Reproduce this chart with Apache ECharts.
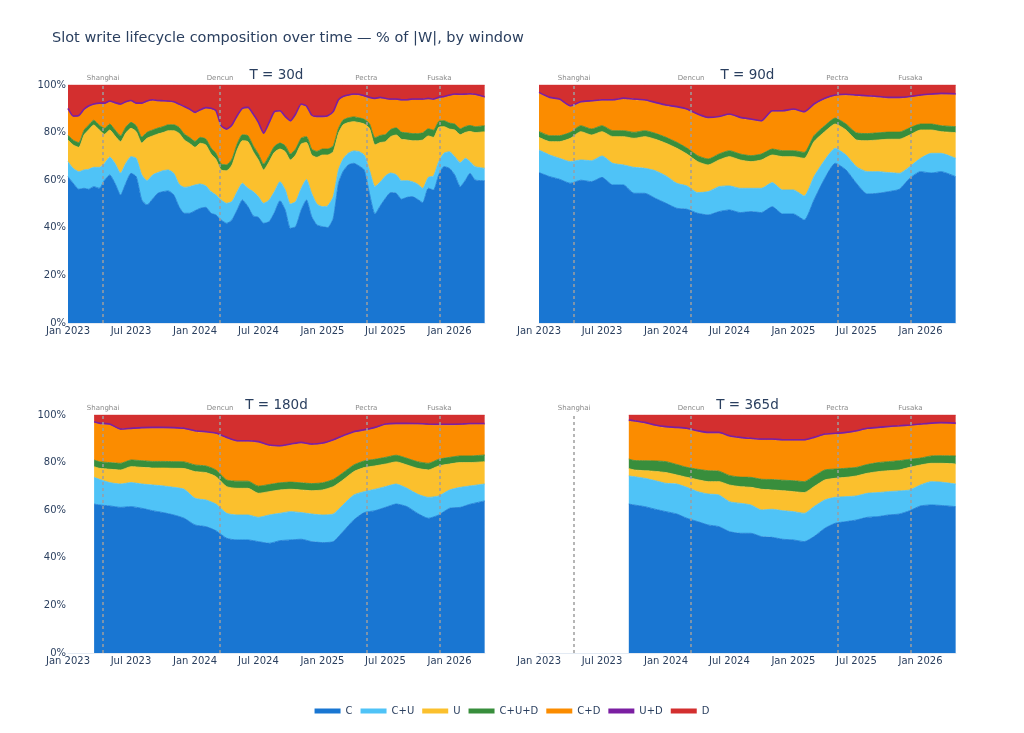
<!DOCTYPE html>
<html>
<head>
<meta charset="utf-8">
<title>Slot write lifecycle composition</title>
<script src="https://cdn.jsdelivr.net/npm/echarts@6/dist/echarts.min.js"></script>
<style>
    html, body { margin: 0; padding: 0; background: #fff; }
    #chart { width: 1024px; height: 733px; }
</style>
</head>
<body>
<div id="chart"></div>
<script>
// series / legend
const seriesNames = ['C', 'C+U', 'U', 'C+U+D', 'C+D', 'U+D', 'D'];
const seriesColors = ['#1976D2', '#4FC3F7', '#FBC02D', '#388E3C', '#FB8C00', '#7B1FA2', '#D32F2F'];
const windowLabels = ['T = 30d', 'T = 90d', 'T = 180d', 'T = 365d'];

// x ticks and fork markers
const tickDates = ['2023-01-01', '2023-07-01', '2024-01-01', '2024-07-01', '2025-01-01', '2025-07-01', '2026-01-01'];
const monthNames = ['Jan', 'Feb', 'Mar', 'Apr', 'May', 'Jun', 'Jul', 'Aug', 'Sep', 'Oct', 'Nov', 'Dec'];
const eventNames = ['Shanghai', 'Dencun', 'Pectra', 'Fusaka'];
const eventDates = ['2023-04-12', '2024-03-13', '2025-05-07', '2025-12-03'];
const yTicks = [0, 20, 40, 60, 80, 100];

// ---- T = 30d ----
const dates30 = [
    '2023-01-01', '2023-01-16', '2023-02-01', '2023-02-16', '2023-03-01', '2023-03-16', '2023-04-01', '2023-04-16',
    '2023-05-01', '2023-05-16', '2023-06-01', '2023-06-16', '2023-07-01', '2023-07-16', '2023-08-01', '2023-08-16',
    '2023-09-01', '2023-09-16', '2023-10-01', '2023-10-16', '2023-11-01', '2023-11-16', '2023-12-01', '2023-12-16',
    '2024-01-01', '2024-01-16', '2024-02-01', '2024-02-16', '2024-03-01', '2024-03-16', '2024-04-01', '2024-04-16',
    '2024-05-01', '2024-05-16', '2024-06-01', '2024-06-16', '2024-07-01', '2024-07-16', '2024-08-01', '2024-08-16',
    '2024-09-01', '2024-09-16', '2024-10-01', '2024-10-16', '2024-11-01', '2024-11-16', '2024-12-01', '2024-12-16',
    '2025-01-01', '2025-01-16', '2025-02-01', '2025-02-16', '2025-03-01', '2025-03-16', '2025-04-01', '2025-04-16',
    '2025-05-01', '2025-05-16', '2025-06-01', '2025-06-16', '2025-07-01', '2025-07-16', '2025-08-01', '2025-08-16',
    '2025-09-01', '2025-09-16', '2025-10-01', '2025-10-16', '2025-11-01', '2025-11-16', '2025-12-01', '2025-12-16',
    '2026-01-01', '2026-01-16', '2026-02-01', '2026-02-16', '2026-03-01', '2026-03-16', '2026-04-12'
];
const c30 = [
    61.5, 58.7, 56.2, 56.6, 56.2, 57.3, 56.6, 60.0, 62.2, 58.7,
    53.8, 58.7, 62.9, 61.5, 51.7, 49.6, 52.1, 54.5, 55.2, 55.5,
    53.8, 48.9, 46.1, 46.1, 47.2, 48.2, 48.6, 46.1, 45.4, 43.3,
    41.9, 43.3, 47.5, 51.7, 48.9, 45.0, 44.4, 41.9, 42.6, 46.4,
    51.4, 47.5, 39.8, 40.5, 47.5, 51.7, 44.7, 41.2, 40.5, 40.1,
    44.0, 58.7, 63.6, 66.4, 67.1, 66.0, 64.3, 54.5, 45.8, 49.2,
    52.4, 54.8, 54.5, 52.0, 52.8, 53.1, 52.0, 50.6, 56.6, 55.9,
    62.2, 65.7, 65.0, 62.2, 57.3, 60.1, 62.9, 60.1, 59.8
];
const cu30 = [
    6.3, 6.3, 7.4, 7.7, 8.4, 8.1, 8.8, 7.1, 7.5, 8.4,
    9.2, 8.4, 7.0, 7.7, 10.6, 10.2, 10.1, 8.7, 8.8, 8.8,
    9.1, 9.5, 10.9, 11.2, 10.8, 10.2, 9.0, 9.1, 8.4, 8.4,
    8.4, 7.7, 7.7, 7.0, 7.7, 10.2, 8.7, 8.4, 9.1, 8.8,
    8.0, 8.5, 10.2, 10.5, 9.1, 8.6, 9.8, 8.8, 8.4, 9.1,
    9.1, 5.6, 5.2, 4.9, 5.2, 6.0, 6.3, 9.8, 11.5, 10.0,
    9.4, 8.2, 7.8, 7.8, 7.0, 6.3, 6.4, 6.0, 4.6, 5.9,
    5.6, 5.6, 7.0, 7.7, 10.1, 9.1, 4.9, 5.6, 5.2
];
const u30 = [
    9.1, 9.8, 10.2, 14.7, 16.5, 17.8, 15.7, 12.2, 11.4, 11.5,
    13.2, 12.7, 11.9, 11.2, 13.3, 17.8, 16.4, 16.2, 16.0, 16.5,
    17.9, 21.3, 19.9, 18.2, 15.8, 17.1, 17.2, 15.8, 15.0, 12.6,
    13.7, 15.4, 17.5, 17.9, 19.6, 16.8, 15.4, 14.0, 16.1, 16.5,
    13.7, 16.0, 18.5, 19.6, 18.6, 15.5, 16.1, 19.6, 21.7, 21.4,
    18.9, 15.4, 14.4, 12.9, 12.3, 12.2, 13.0, 17.5, 17.5, 16.6,
    14.4, 15.3, 16.7, 17.4, 17.1, 17.2, 18.2, 20.3, 17.4, 16.2,
    14.4, 11.2, 9.5, 11.2, 11.7, 10.9, 12.7, 14.3, 15.4
];
const cud30 = [
    2.0, 2.0, 2.0, 2.0, 2.0, 2.0, 2.0, 2.5, 2.5, 2.5,
    2.5, 2.5, 2.5, 2.5, 2.5, 2.5, 2.5, 2.5, 2.5, 2.5,
    2.5, 2.5, 2.5, 2.5, 2.5, 2.5, 2.5, 2.5, 2.5, 2.5,
    2.5, 2.5, 2.5, 2.5, 2.5, 2.5, 2.5, 2.5, 2.5, 2.5,
    2.5, 2.5, 2.5, 2.5, 2.5, 2.5, 2.5, 2.5, 2.5, 2.5,
    2.5, 2.0, 2.0, 2.0, 2.0, 2.0, 2.0, 2.0, 3.0, 3.0,
    3.0, 3.0, 3.0, 3.0, 3.0, 3.0, 3.0, 3.0, 3.0, 3.0,
    2.5, 2.5, 2.5, 2.5, 2.5, 2.5, 2.5, 2.5, 2.5
];
const cd30 = [
    10.9, 9.8, 11.0, 8.4, 7.7, 6.4, 8.9, 10.2, 9.3, 11.1,
    12.9, 10.3, 8.8, 9.1, 13.9, 12.8, 12.3, 11.2, 10.5, 9.6,
    9.3, 9.4, 11.2, 11.5, 11.8, 11.2, 12.8, 16.3, 17.5, 15.7,
    14.6, 13.9, 11.5, 10.7, 11.5, 12.9, 12.9, 12.6, 13.6, 14.2,
    13.2, 11.9, 13.6, 14.3, 13.9, 12.5, 13.9, 14.3, 13.3, 13.6,
    13.9, 11.7, 9.6, 9.2, 9.2, 9.5, 9.5, 10.6, 16.2, 15.6,
    14.8, 12.4, 11.7, 13.2, 13.5, 14.1, 14.1, 13.8, 12.4, 12.7,
    9.7, 9.8, 11.4, 12.2, 14.1, 13.2, 12.9, 13.2, 11.8
];
const ud30 = [
    0.4, 0.4, 0.4, 0.4, 0.4, 0.4, 0.4, 0.4, 0.4, 0.4,
    0.4, 0.4, 0.4, 0.4, 0.4, 0.4, 0.4, 0.4, 0.4, 0.4,
    0.4, 0.4, 0.4, 0.4, 0.4, 0.4, 0.4, 0.4, 0.4, 0.4,
    0.4, 0.4, 0.4, 0.4, 0.4, 0.4, 0.4, 0.4, 0.4, 0.4,
    0.4, 0.4, 0.4, 0.4, 0.4, 0.4, 0.4, 0.4, 0.4, 0.4,
    0.4, 0.4, 0.4, 0.4, 0.4, 0.4, 0.4, 0.4, 0.4, 0.4,
    0.4, 0.4, 0.4, 0.4, 0.4, 0.4, 0.4, 0.4, 0.4, 0.4,
    0.4, 0.4, 0.4, 0.4, 0.4, 0.4, 0.4, 0.4, 0.4
];
const d30 = [
    9.8, 13.0, 12.8, 10.2, 8.8, 8.0, 7.6, 7.6, 6.7, 7.4,
    8.0, 7.0, 6.5, 7.6, 7.6, 6.7, 6.2, 6.5, 6.6, 6.7,
    7.0, 8.0, 9.0, 10.1, 11.5, 10.4, 9.5, 9.8, 10.8, 17.1,
    18.5, 16.8, 12.9, 9.8, 9.4, 12.2, 15.7, 20.2, 15.7, 11.2,
    10.8, 13.2, 15.0, 12.2, 8.0, 8.8, 12.6, 13.2, 13.2, 12.9,
    11.2, 6.2, 4.8, 4.2, 3.8, 3.9, 4.5, 5.2, 5.6, 5.2,
    5.6, 5.9, 5.9, 6.2, 6.2, 5.9, 5.9, 5.9, 5.6, 5.9,
    5.2, 4.8, 4.2, 3.8, 3.9, 3.8, 3.7, 3.9, 4.9
];

// ---- T = 90d ----
const dates90 = [
    '2023-01-01', '2023-02-01', '2023-03-01', '2023-04-01', '2023-05-01', '2023-06-01', '2023-07-01', '2023-08-01',
    '2023-09-01', '2023-10-01', '2023-11-01', '2023-12-01', '2024-01-01', '2024-02-01', '2024-03-01', '2024-04-01',
    '2024-05-01', '2024-06-01', '2024-07-01', '2024-08-01', '2024-09-01', '2024-10-01', '2024-11-01', '2024-12-01',
    '2025-01-01', '2025-02-01', '2025-03-01', '2025-04-01', '2025-05-01', '2025-06-01', '2025-07-01', '2025-08-01',
    '2025-09-01', '2025-10-01', '2025-11-01', '2025-12-01', '2026-01-01', '2026-02-01', '2026-03-01', '2026-04-12'
];
const c90 = [
    63.2, 61.5, 60.4, 58.7, 60.0, 59.4, 61.2, 58.0, 58.0, 54.5,
    54.5, 52.4, 50.3, 48.2, 47.8, 46.1, 45.4, 46.8, 47.5, 46.4,
    46.8, 46.4, 48.9, 45.8, 45.8, 43.3, 51.7, 60.8, 67.1, 64.3,
    58.7, 54.2, 54.5, 55.2, 56.2, 60.8, 63.6, 63.0, 63.6, 61.5
];
const cu90 = [
    9.5, 9.1, 8.8, 9.1, 8.5, 8.8, 9.0, 9.1, 8.4, 10.9,
    10.5, 11.6, 11.5, 10.5, 9.8, 8.7, 9.8, 10.5, 10.1, 10.2,
    9.8, 10.2, 10.1, 10.1, 10.1, 10.1, 9.8, 7.7, 6.3, 6.3,
    7.0, 9.4, 9.1, 8.0, 6.7, 4.9, 5.6, 8.3, 7.7, 7.7
];
const u90 = [
    5.3, 5.6, 7.0, 9.8, 11.9, 10.8, 10.2, 11.2, 11.9, 12.2,
    13.3, 13.2, 13.7, 14.7, 13.4, 13.0, 11.2, 11.2, 12.3, 11.9,
    11.2, 11.9, 11.6, 14.0, 14.0, 15.8, 14.7, 11.9, 10.2, 10.5,
    11.2, 13.0, 13.3, 14.0, 14.3, 13.3, 11.9, 9.8, 9.1, 10.8
];
const cud90 = [
    2.5, 2.5, 2.5, 2.5, 2.5, 2.5, 2.5, 2.5, 2.5, 2.5,
    2.5, 2.5, 2.5, 2.5, 2.5, 2.5, 2.5, 2.5, 2.5, 2.5,
    2.5, 2.5, 2.5, 2.5, 2.5, 2.5, 2.5, 2.5, 2.5, 2.5,
    3.0, 3.0, 3.0, 3.0, 3.0, 3.0, 2.5, 2.5, 2.5, 2.5
];
const cd90 = [
    16.0, 15.7, 15.0, 10.8, 9.7, 11.5, 10.5, 12.6, 13.3, 13.6,
    12.6, 12.6, 13.2, 14.6, 16.0, 17.1, 17.1, 15.4, 15.0, 15.0,
    15.0, 13.6, 15.7, 16.4, 17.1, 16.7, 12.9, 11.1, 9.3, 12.1,
    15.5, 15.5, 14.9, 14.2, 14.2, 12.8, 11.8, 12.2, 13.2, 13.4
];
const ud90 = [
    0.4, 0.4, 0.4, 0.4, 0.4, 0.4, 0.4, 0.4, 0.4, 0.4,
    0.4, 0.4, 0.4, 0.4, 0.4, 0.4, 0.4, 0.4, 0.4, 0.4,
    0.4, 0.4, 0.4, 0.4, 0.4, 0.4, 0.4, 0.4, 0.4, 0.4,
    0.4, 0.4, 0.4, 0.4, 0.4, 0.4, 0.4, 0.4, 0.4, 0.4
];
const d90 = [
    3.1, 5.2, 5.9, 8.7, 7.0, 6.6, 6.2, 6.2, 5.5, 5.9,
    6.2, 7.3, 8.4, 9.1, 10.1, 12.2, 13.6, 13.2, 12.2, 13.6,
    14.3, 15.0, 10.8, 10.8, 10.1, 11.2, 8.0, 5.6, 4.2, 3.9,
    4.2, 4.5, 4.8, 5.2, 5.2, 4.8, 4.2, 3.8, 3.5, 3.7
];

// ---- T = 180d ----
const dates180 = [
    '2023-03-17', '2023-04-01', '2023-05-01', '2023-06-01', '2023-07-01', '2023-08-01', '2023-09-01', '2023-10-01',
    '2023-11-01', '2023-12-01', '2024-01-01', '2024-02-01', '2024-03-01', '2024-04-01', '2024-05-01', '2024-06-01',
    '2024-07-01', '2024-08-01', '2024-09-01', '2024-10-01', '2024-11-01', '2024-12-01', '2025-01-01', '2025-02-01',
    '2025-03-01', '2025-04-01', '2025-05-01', '2025-06-01', '2025-07-01', '2025-08-01', '2025-09-01', '2025-10-01',
    '2025-11-01', '2025-12-01', '2026-01-01', '2026-02-01', '2026-03-01', '2026-04-12'
];
const c180 = [
    62.6, 62.2, 61.8, 61.2, 61.5, 60.8, 59.8, 59.0, 58.0, 56.6,
    53.8, 53.1, 51.4, 48.2, 47.5, 47.5, 46.8, 46.1, 47.2, 47.5,
    47.8, 46.8, 46.4, 46.8, 51.0, 55.9, 59.0, 59.8, 61.2, 62.6,
    61.5, 58.7, 56.6, 58.0, 60.8, 61.2, 62.5, 63.9
];
const cu180 = [
    11.2, 10.8, 9.8, 9.8, 10.1, 10.2, 10.8, 11.2, 11.6, 12.2,
    11.2, 11.2, 11.2, 10.5, 10.5, 10.5, 10.2, 11.9, 11.5, 11.9,
    11.2, 11.6, 11.6, 11.6, 11.2, 10.5, 8.8, 9.0, 8.7, 8.4,
    7.7, 8.1, 8.8, 8.0, 7.7, 8.4, 7.7, 7.1
];
const u180 = [
    4.5, 4.6, 5.6, 5.9, 6.7, 7.0, 7.1, 7.5, 8.0, 8.7,
    11.2, 11.5, 11.5, 11.2, 11.2, 11.2, 10.1, 9.8, 9.8, 9.4,
    9.5, 9.8, 10.5, 11.5, 10.5, 9.8, 10.1, 9.8, 9.5, 9.3,
    9.8, 10.8, 11.5, 12.6, 10.9, 10.4, 9.8, 9.4
];
const cud180 = [
    2.8, 2.8, 2.8, 2.8, 2.8, 2.8, 2.8, 2.8, 2.8, 2.8,
    2.8, 2.8, 2.8, 2.8, 3.0, 3.0, 3.0, 3.0, 3.0, 3.0,
    3.0, 3.0, 3.0, 3.0, 3.0, 2.8, 2.8, 2.8, 2.8, 2.8,
    2.8, 2.8, 2.8, 2.8, 2.8, 2.8, 2.8, 2.8
];
const cd180 = [
    15.7, 15.8, 15.8, 14.0, 12.9, 13.5, 13.9, 13.9, 13.9, 13.7,
    14.0, 14.0, 15.1, 17.5, 16.6, 16.6, 18.3, 16.2, 15.2, 15.6,
    16.6, 16.2, 16.3, 16.3, 15.2, 13.6, 12.7, 13.0, 13.6, 13.0,
    14.3, 15.6, 16.1, 14.3, 13.5, 13.0, 13.2, 12.8
];
const ud180 = [
    0.4, 0.4, 0.4, 0.4, 0.4, 0.4, 0.4, 0.4, 0.4, 0.4,
    0.4, 0.4, 0.4, 0.4, 0.4, 0.4, 0.4, 0.4, 0.4, 0.4,
    0.4, 0.4, 0.4, 0.4, 0.4, 0.4, 0.4, 0.4, 0.4, 0.4,
    0.4, 0.4, 0.4, 0.4, 0.4, 0.4, 0.4, 0.4
];
const d180 = [
    2.8, 3.4, 3.8, 5.9, 5.6, 5.3, 5.2, 5.2, 5.3, 5.6,
    6.6, 7.0, 7.6, 9.4, 10.8, 10.8, 11.2, 12.6, 12.9, 12.2,
    11.5, 12.2, 11.8, 10.4, 8.7, 7.0, 6.2, 5.2, 3.8, 3.5,
    3.5, 3.6, 3.8, 3.9, 3.9, 3.8, 3.6, 3.6
];

// ---- T = 365d ----
const dates365 = [
    '2023-09-16', '2023-10-01', '2023-11-01', '2023-12-01', '2024-01-01', '2024-02-01', '2024-03-01', '2024-04-01',
    '2024-05-01', '2024-06-01', '2024-07-01', '2024-08-01', '2024-09-01', '2024-10-01', '2024-11-01', '2024-12-01',
    '2025-01-01', '2025-02-01', '2025-03-01', '2025-04-01', '2025-05-01', '2025-06-01', '2025-07-01', '2025-08-01',
    '2025-09-01', '2025-10-01', '2025-11-01', '2025-12-01', '2026-01-01', '2026-02-01', '2026-03-01', '2026-04-12'
];
const c365 = [
    62.6, 62.2, 61.5, 60.4, 59.4, 58.4, 56.6, 55.2, 53.8, 53.1,
    51.0, 50.3, 50.3, 48.9, 48.6, 47.8, 47.5, 46.8, 48.9, 52.4,
    54.5, 55.2, 55.9, 57.0, 57.3, 58.0, 58.4, 59.8, 61.8, 62.2,
    62.0, 61.5
];
const cu365 = [
    11.8, 11.9, 11.9, 12.0, 11.9, 12.6, 13.0, 12.6, 13.0, 13.3,
    12.6, 12.6, 11.9, 11.2, 11.8, 12.0, 11.9, 11.9, 12.6, 11.9,
    10.9, 10.5, 10.1, 10.1, 10.1, 9.8, 9.7, 8.7, 8.8, 9.8,
    9.8, 9.5
];
const u365 = [
    3.1, 2.8, 3.2, 3.9, 4.5, 3.8, 4.2, 5.0, 5.2, 5.6,
    7.0, 7.0, 7.4, 8.7, 8.1, 8.4, 8.4, 8.7, 8.4, 8.4,
    8.0, 8.1, 8.4, 8.4, 8.8, 8.8, 8.8, 9.5, 8.4, 7.7,
    7.9, 8.4
];
const cud365 = [
    4.0, 4.0, 4.2, 4.4, 4.6, 4.4, 4.2, 4.4, 4.6, 4.4,
    4.0, 4.0, 4.2, 4.2, 4.4, 4.4, 4.6, 4.6, 4.4, 4.2,
    3.9, 3.8, 3.6, 3.7, 3.8, 3.8, 3.9, 3.4, 2.9, 3.1,
    3.2, 3.4
];
const cd365 = [
    16.0, 16.3, 15.7, 14.7, 14.3, 15.2, 16.0, 15.8, 15.7, 15.9,
    16.3, 16.3, 16.0, 16.5, 16.6, 16.6, 16.8, 17.2, 15.9, 14.7,
    14.6, 14.7, 15.0, 14.8, 14.4, 14.4, 14.3, 14.0, 13.9, 13.4,
    13.5, 13.4
];
const ud365 = [
    0.4, 0.4, 0.4, 0.4, 0.4, 0.4, 0.4, 0.4, 0.4, 0.4,
    0.4, 0.4, 0.4, 0.4, 0.4, 0.4, 0.4, 0.4, 0.4, 0.4,
    0.4, 0.4, 0.4, 0.4, 0.4, 0.4, 0.4, 0.4, 0.4, 0.4,
    0.4, 0.4
];
const d365 = [
    2.1, 2.4, 3.1, 4.2, 4.9, 5.2, 5.6, 6.6, 7.3, 7.3,
    8.7, 9.4, 9.8, 10.1, 10.1, 10.4, 10.4, 10.4, 9.4, 8.0,
    7.7, 7.3, 6.6, 5.6, 5.2, 4.8, 4.5, 4.2, 3.8, 3.4,
    3.2, 3.4
];

const panels = [
    { dates: dates30, values: [c30, cu30, u30, cud30, cd30, ud30, d30] },
    { dates: dates90, values: [c90, cu90, u90, cud90, cd90, ud90, d90] },
    { dates: dates180, values: [c180, cu180, u180, cud180, cd180, ud180, d180] },
    { dates: dates365, values: [c365, cu365, u365, cud365, cd365, ud365, d365] },
];

const FONT = 'DejaVu Sans';
const INK = '#2a3f5f';
const xMin = '2023-01-01';
const xMax = '2026-04-13';

// plot boxes (px)
const boxes = [
    { left: 68, top: 85 },
    { left: 539, top: 85 },
    { left: 68, top: 415 },
    { left: 539, top: 415 },
];
const boxW = 417;
const boxH = 238;

const ts = s => +echarts.time.parse(s);
const tickValues = tickDates.map(ts);

const grids = [];
const dataAxes = [];   // time axes carrying the series
const labelAxes = [];  // value axes in ms, same span, only for "Jan 2023" style labels
const yAxes = [];
const series = [];
const graphics = [];

boxes.forEach((b, p) => {
    grids.push({ left: b.left, top: b.top, width: boxW, height: boxH, containLabel: false });
    dataAxes.push({
        type: 'time',
        gridIndex: p,
        position: 'bottom',
        min: ts(xMin),
        max: ts(xMax),
        splitLine: { show: false },
        axisTick: { show: false },
        axisLabel: { show: false },
        axisLine: { show: true, onZero: false, lineStyle: { color: '#e3eaf3', width: 1 } },
    });
    labelAxes.push({
        type: 'value',
        gridIndex: p,
        position: 'bottom',
        offset: 0,
        min: ts(xMin),
        max: ts(xMax),
        splitLine: { show: false },
        axisTick: { show: false },
        axisLine: { show: false },
        axisLabel: {
            customValues: tickValues,
            formatter: v => {
                const d = new Date(v);
                return monthNames[d.getMonth()] + ' ' + d.getFullYear();
            },
            fontFamily: FONT,
            fontSize: 10,
            color: INK,
            margin: 3,
        },
    });
    yAxes.push({
        type: 'value',
        gridIndex: p,
        min: 0,
        max: 100,
        interval: 20,
        splitLine: { show: false },
        axisLine: { show: false },
        axisTick: { show: false },
        axisLabel: {
            show: p % 2 === 0,
            customValues: yTicks,
            formatter: '{value}%',
            fontFamily: FONT,
            fontSize: 10,
            color: INK,
            margin: 2,
        },
    });

    const panel = panels[p];
    seriesNames.forEach((name, s) => {
        const item = {
            name: name,
            type: 'line',
            xAxisIndex: p,
            yAxisIndex: p,
            stack: 'win' + p,
            symbol: 'none',
            showSymbol: false,
            smooth: 0.2,
            data: panel.dates.map((d, i) => [d, panel.values[s][i]]),
            itemStyle: { color: seriesColors[s] },
            lineStyle: { color: seriesColors[s], width: name === 'U+D' ? 1.6 : 0.8 },
            areaStyle: { color: seriesColors[s], opacity: 1 },
            emphasis: { disabled: true },
        };
        if (name === 'D') {
            // hard fork markers, drawn over the areas
            item.markLine = {
                silent: true,
                animation: false,
                symbol: ['none', 'none'],
                lineStyle: { color: '#9e9e9e', width: 1.5, type: [3, 3] },
                label: {
                    show: true,
                    position: 'end',
                    formatter: '{b}',
                    distance: 3,
                    fontFamily: FONT,
                    fontSize: 7,
                    color: '#8a8a8a',
                },
                emphasis: { disabled: true },
                data: eventNames.map((n, i) => ({ name: n, xAxis: eventDates[i] })),
            };
        }
        series.push(item);
    });

    graphics.push({
        type: 'text',
        x: b.left + boxW / 2,
        y: b.top - 10,
        style: {
            text: windowLabels[p],
            fontFamily: FONT,
            fontSize: 13.5,
            fill: INK,
            align: 'center',
            verticalAlign: 'middle',
        },
    });
});

const chart = echarts.init(document.getElementById('chart'));
chart.setOption({
    animation: false,
    backgroundColor: '#fff',
    title: {
        text: 'Slot write lifecycle composition over time — % of |W|, by window',
        left: 52,
        top: 31,
        padding: 0,
        textStyle: { fontFamily: FONT, fontSize: 14.5, fontWeight: 'normal', color: INK },
    },
    legend: {
        data: seriesNames,
        left: 'center',
        top: 701,
        icon: 'rect',
        itemWidth: 26,
        itemHeight: 5,
        itemGap: 8,
        textStyle: { fontFamily: FONT, fontSize: 10, color: INK },
    },
    grid: grids,
    xAxis: dataAxes.concat(labelAxes),
    yAxis: yAxes,
    series: series,
    graphic: graphics,
});
</script>
</body>
</html>
